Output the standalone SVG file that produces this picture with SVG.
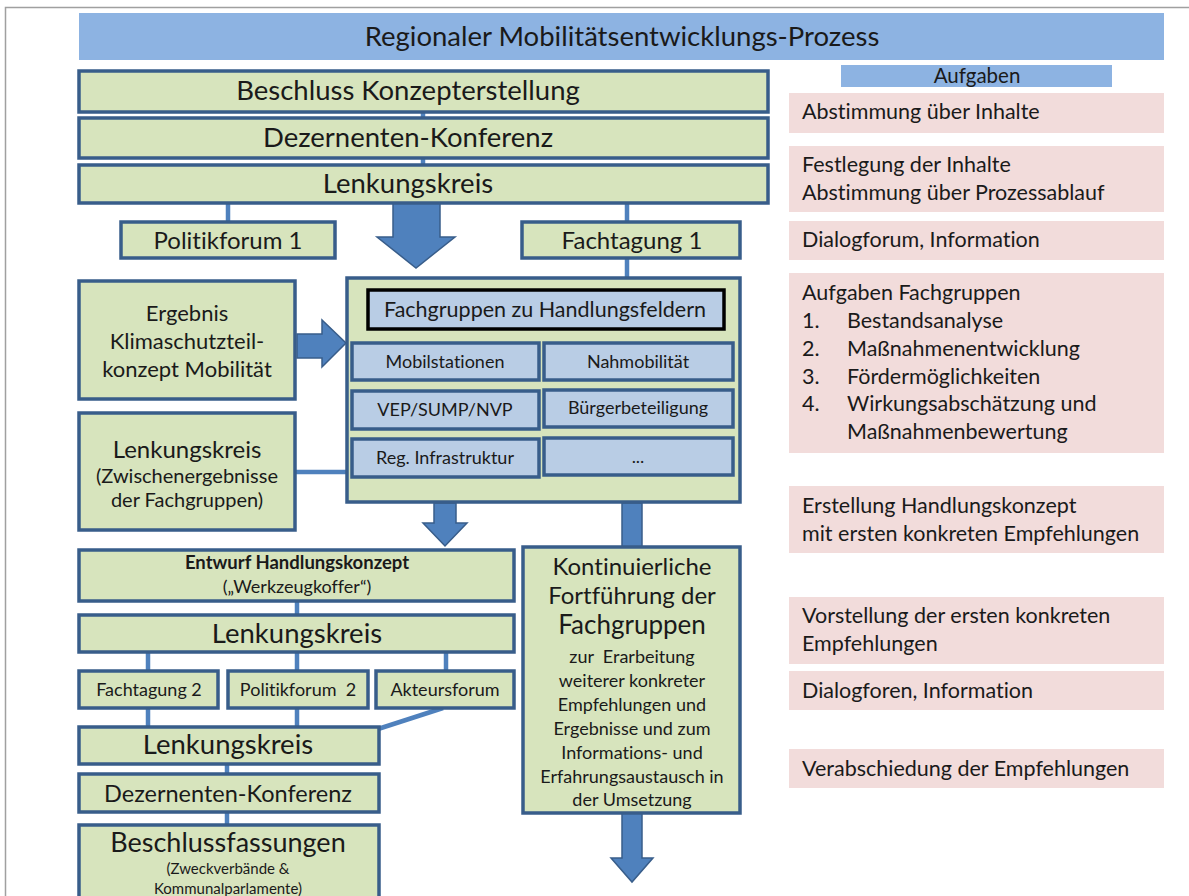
<svg xmlns="http://www.w3.org/2000/svg" width="1189" height="896" viewBox="0 0 1189 896">
<defs>
<style>
text{font-family:Lato,"Open Sans","Liberation Sans",sans-serif;fill:#1a1a1a;text-anchor:middle;font-variant-ligatures:none;font-feature-settings:"liga" 0,"clig" 0}
.g{fill:#d7e4bd;stroke:#385d8a;stroke-width:3.5}
.b{fill:#b9cde5;stroke:#385d8a;stroke-width:3.5}
.p{fill:#f2dcdb}
.hd{fill:#8db3e2}
.c{stroke:#4f81bd;stroke-width:4.5;fill:none}
.ar{fill:#4f81bd;stroke:#385d8a;stroke-width:1.5}
.l{text-anchor:start;font-size:21.5px}
.s{font-size:18px}
.big{font-size:27.5px}
.pre{white-space:pre}
</style>
</defs>
<rect width="1189" height="896" fill="#fff"/>
<path d="M5.5 896V7.5H1189" fill="none" stroke="#a0a0a0" stroke-width="1.5"/>

<g id="title"><rect class="hd" x="79" y="13" width="1085" height="47"/><text x="622" y="46" class="big">Regionaler Mobilitätsentwicklungs-Prozess</text></g>

<g id="connectors">
<line class="c" x1="423" y1="112" x2="423" y2="118"/>
<line class="c" x1="423" y1="158" x2="423" y2="165"/>
<line class="c" x1="228" y1="203" x2="228" y2="222"/>
<line class="c" x1="627" y1="203" x2="627" y2="222"/>
<line class="c" x1="627" y1="258" x2="627" y2="278"/>
<line class="c" x1="295" y1="472" x2="347" y2="472"/>
<line class="c" x1="297" y1="601" x2="297" y2="615"/>
<line class="c" x1="148" y1="652" x2="148" y2="671"/>
<line class="c" x1="297" y1="652" x2="297" y2="671"/>
<line class="c" x1="446" y1="652" x2="446" y2="671"/>
<line class="c" x1="148" y1="708" x2="148" y2="728"/>
<line class="c" x1="297" y1="708" x2="297" y2="728"/>
<line class="c" x1="443" y1="708" x2="378" y2="729"/>
<line class="c" x1="227" y1="764" x2="227" y2="774"/>
<line class="c" x1="227" y1="812" x2="227" y2="825"/>
<path class="ar" d="M393 203H440V237H455L416 268L377 237H393Z"/>
<path class="ar" d="M297 334H322V320L346 343L322 367V358H297Z"/>
<path class="ar" d="M434 503H456V523H467L445 546L423 523H434Z"/>
<rect class="ar" x="622" y="503" width="20" height="44"/>
<path class="ar" d="M622 813H642V858H653L632 882L611 858H622Z"/>
</g>

<g id="n-beschluss"><rect class="g" x="79" y="71" width="689" height="41"/><text x="408" y="100" class="big">Beschluss Konzepterstellung</text></g>
<g id="n-dezernenten1"><rect class="g" x="79" y="118" width="689" height="40"/><text x="408" y="147" class="big">Dezernenten-Konferenz</text></g>
<g id="n-lenkung1"><rect class="g" x="79" y="165" width="689" height="38"/><text x="408" y="193" class="big">Lenkungskreis</text></g>
<g id="n-politik1"><rect class="g" x="121" y="222" width="214" height="36"/><text x="228" y="249" font-size="24">Politikforum 1</text></g>
<g id="n-fachtagung1"><rect class="g" x="522" y="222" width="218" height="36"/><text x="632" y="249" font-size="24">Fachtagung 1</text></g>

<g id="n-fachgruppen">
<rect class="g" x="347" y="278" width="393" height="224"/>
<rect x="368" y="290" width="356" height="39" style="fill:#b9cde5;stroke:#000;stroke-width:3.5"/>
<text x="545" y="317" font-size="21.5">Fachgruppen zu Handlungsfeldern</text>
<rect class="b" x="352" y="343" width="187" height="37"/><text x="445" y="368" class="s">Mobilstationen</text>
<rect class="b" x="544" y="343" width="189" height="37"/><text x="638" y="368" class="s">Nahmobilität</text>
<rect class="b" x="352" y="391" width="187" height="38"/><text x="445" y="416" class="s">VEP/SUMP/NVP</text>
<rect class="b" x="544" y="390" width="189" height="37"/><text x="638" y="414" class="s">Bürgerbeteiligung</text>
<rect class="b" x="352" y="439" width="187" height="38"/><text x="445" y="464" class="s">Reg. Infrastruktur</text>
<rect class="b" x="544" y="438" width="189" height="37"/><text x="638" y="463" class="s">...</text>
</g>

<g id="n-ergebnis"><rect class="g" x="79" y="281" width="216" height="118"/>
<text x="187" y="321" font-size="22">Ergebnis</text>
<text x="187" y="349" font-size="22">Klimaschutzteil-</text>
<text x="187" y="377" font-size="22">konzept Mobilität</text></g>
<g id="n-lenkung-zw"><rect class="g" x="79" y="413" width="216" height="117"/>
<text x="187" y="458" font-size="24">Lenkungskreis</text>
<text x="187" y="483" font-size="20">(Zwischenergebnisse</text>
<text x="187" y="507" font-size="20">der Fachgruppen)</text></g>

<g id="n-entwurf"><rect class="g" x="79" y="550" width="435" height="51"/>
<text x="297" y="569" font-size="18.5" font-weight="bold">Entwurf Handlungskonzept</text>
<text x="297" y="593" class="s">(„Werkzeugkoffer“)</text></g>
<g id="n-lenkung2"><rect class="g" x="79" y="615" width="435" height="37"/><text x="297" y="643" class="big">Lenkungskreis</text></g>
<g id="n-fachtagung2"><rect class="g" x="79" y="671" width="139" height="37"/><text x="149" y="696" class="s">Fachtagung 2</text></g>
<g id="n-politik2"><rect class="g" x="228" y="671" width="140" height="37"/><text x="298" y="696" class="s pre" xml:space="preserve">Politikforum  2</text></g>
<g id="n-akteur"><rect class="g" x="376" y="671" width="138" height="37"/><text x="445" y="696" class="s">Akteursforum</text></g>
<g id="n-lenkung3"><rect class="g" x="79" y="727" width="300" height="37"/><text x="228" y="754" class="big">Lenkungskreis</text></g>
<g id="n-dezernenten2"><rect class="g" x="79" y="774" width="300" height="38"/><text x="228" y="802" font-size="23.5">Dezernenten-Konferenz</text></g>
<g id="n-beschlussfassungen"><rect class="g" x="79" y="825" width="300" height="76"/>
<text x="228" y="852" font-size="27">Beschlussfassungen</text>
<text x="228" y="874" font-size="15">(Zweckverbände &amp;</text>
<text x="228" y="894" font-size="15">Kommunalparlamente)</text></g>

<g id="n-kontinuierlich"><rect class="g" x="523" y="547" width="217" height="266"/>
<text x="632" y="575" font-size="24">Kontinuierliche</text>
<text x="632" y="604" font-size="24">Fortführung der</text>
<text x="632" y="634" font-size="26">Fachgruppen</text>
<text x="632" y="663" class="s pre" xml:space="preserve">zur  Erarbeitung</text>
<text x="632" y="687" class="s">weiterer konkreter</text>
<text x="632" y="711" class="s">Empfehlungen und</text>
<text x="632" y="735" class="s">Ergebnisse und zum</text>
<text x="632" y="759" class="s">Informations- und</text>
<text x="632" y="783" class="s">Erfahrungsaustausch in</text>
<text x="632" y="806" class="s">der Umsetzung</text></g>

<g id="aufgaben">
<rect class="hd" x="841" y="65" width="271" height="22"/><text x="977" y="83" font-size="20.5">Aufgaben</text>
<g id="a1"><rect class="p" x="789" y="93" width="375" height="40"/><text class="l" x="802" y="119">Abstimmung über Inhalte</text></g>
<g id="a2"><rect class="p" x="789" y="146" width="375" height="66"/><text class="l" x="802" y="172">Festlegung der Inhalte</text><text class="l" x="802" y="200">Abstimmung über Prozessablauf</text></g>
<g id="a3"><rect class="p" x="789" y="221" width="375" height="39"/><text class="l" x="802" y="247">Dialogforum, Information</text></g>
<g id="a4"><rect class="p" x="789" y="273" width="375" height="180"/>
<text class="l" x="802" y="300">Aufgaben Fachgruppen</text>
<text class="l" x="802" y="328">1.</text><text class="l" x="847" y="328">Bestandsanalyse</text>
<text class="l" x="802" y="356">2.</text><text class="l" x="847" y="356">Maßnahmenentwicklung</text>
<text class="l" x="802" y="384">3.</text><text class="l" x="847" y="384">Fördermöglichkeiten</text>
<text class="l" x="802" y="411">4.</text><text class="l" x="847" y="411">Wirkungsabschätzung und</text>
<text class="l" x="847" y="439">Maßnahmenbewertung</text></g>
<g id="a5"><rect class="p" x="789" y="486" width="375" height="67"/><text class="l" x="802" y="513">Erstellung Handlungskonzept</text><text class="l" x="802" y="541">mit ersten konkreten Empfehlungen</text></g>
<g id="a6"><rect class="p" x="789" y="597" width="375" height="67"/><text class="l" x="802" y="623">Vorstellung der ersten konkreten</text><text class="l" x="802" y="651">Empfehlungen</text></g>
<g id="a7"><rect class="p" x="789" y="671" width="375" height="39"/><text class="l" x="802" y="698">Dialogforen, Information</text></g>
<g id="a8"><rect class="p" x="789" y="749" width="375" height="39"/><text class="l" x="802" y="776">Verabschiedung der Empfehlungen</text></g>
</g>
</svg>
